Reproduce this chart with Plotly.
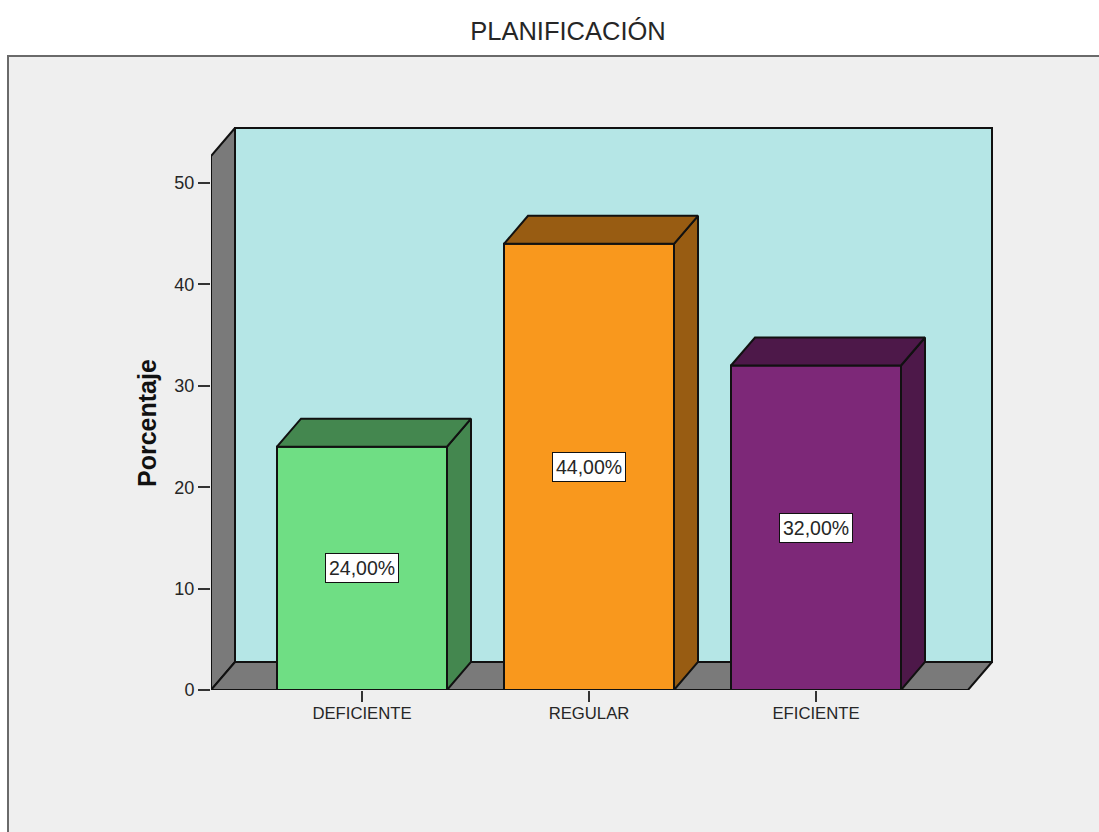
import plotly.graph_objects as go

# Data
categories = ["DEFICIENTE", "REGULAR", "EFICIENTE"]
values = [24.0, 44.0, 32.0]
value_labels = ["24,00%", "44,00%", "32,00%"]
y_ticks = [0, 10, 20, 30, 40, 50]
title_text = "PLANIFICACIÓN"
y_title = "Porcentaje"

# Colours
front_colors = ["#6FDE84", "#F9981D", "#7D2878"]
side_colors = ["#44874F", "#985C12", "#4D1849"]
wall_color = "#7A7A7A"
back_color = "#B5E6E6"
panel_color = "#EFEFEF"
panel_line = "#6A6A6A"
ink = "#111111"
soft = "#262626"
FONT = "Liberation Sans, Arial, sans-serif"

# Figure geometry (pixels); the plot area runs a little past the walls at top and right
W, H = 1099, 832
L, R, T, B = 211, 1004, 116, 690
wall_right, wall_top = 992, 128
px_per_cat = 227.0
px_per_unit = 10.14
cat0_px = 362.0
bar_w = 170.0 / px_per_cat
dx = 24.0 / px_per_cat
dy = 28.0 / px_per_unit
x_range = [(L - cat0_px) / px_per_cat, (R - cat0_px) / px_per_cat]
y_range = [0, (B - T) / px_per_unit]
x0 = x_range[0]
x1 = (wall_right - cat0_px) / px_per_cat - dx
y_top = (B - wall_top) / px_per_unit - dy

fig = go.Figure()


def poly(xs, ys, fill, axes, width=2.0):
    fig.add_trace(go.Scatter(
        x=xs + xs[:1], y=ys + ys[:1], mode="lines", fill="toself", fillcolor=fill,
        line=dict(color=ink, width=width), hoverinfo="skip", showlegend=False,
        cliponaxis=False, xaxis=axes[0], yaxis=axes[1],
    ))


base = ("x", "y")
over = ("x2", "y2")

# Chart walls, on the base axes so that they stay under the bars
poly([x0 + dx, x1 + dx, x1 + dx, x0 + dx], [dy, dy, y_top + dy, y_top + dy], back_color, base)
poly([x0, x0 + dx, x0 + dx, x0], [0, dy, y_top + dy, y_top], wall_color, base)
poly([x0, x1, x1 + dx, x0 + dx], [0, 0, dy, dy], wall_color, base)

# Bars
fig.add_trace(go.Bar(
    x=list(range(len(values))), y=values, width=bar_w,
    marker=dict(color=front_colors, line=dict(color=ink, width=2.0)),
    hoverinfo="skip", showlegend=False, cliponaxis=False, xaxis="x2", yaxis="y2",
))
for i, v in enumerate(values):
    right = i + bar_w / 2
    left = i - bar_w / 2
    poly([right, right + dx, right + dx, right], [0, dy, v + dy, v], side_colors[i], over)
    poly([left, left + dx, right + dx, right], [v, v + dy, v + dy, v], side_colors[i], over)

# paper coordinates of the plot area
px = lambda p: (p - L) / (R - L)
py = lambda p: (B - p) / (B - T)

annotations = [
    dict(x=i, y=v / 2, xref="x2", yref="y2", text=value_labels[i], showarrow=False,
         font=dict(family=FONT, size=19.5, color=soft), bgcolor="white",
         bordercolor=ink, borderwidth=1, borderpad=3)
    for i, v in enumerate(values)
]
annotations.append(dict(
    x=px(147), y=py(423), xref="paper", yref="paper", yanchor="middle", xanchor="center",
    text=f"<b>{y_title}</b>", textangle=-90, showarrow=False,
    font=dict(family=FONT, size=25, color=ink),
))

fig.update_layout(
    width=W, height=H, autosize=False,
    margin=dict(l=L, r=W - R, t=T, b=H - B, pad=0),
    paper_bgcolor="white", plot_bgcolor="rgba(0,0,0,0)",
    font=dict(family=FONT, color=ink),
    title=dict(text=title_text, x=568 / W, y=1 - 31 / H, xref="container", yref="container",
               xanchor="center", yanchor="middle",
               font=dict(family=FONT, size=25.5, color=soft)),
    barmode="overlay",
    shapes=[dict(type="rect", xref="paper", yref="paper", layer="below",
                 x0=px(8), x1=px(1110), y0=py(850), y1=py(56),
                 fillcolor=panel_color, line=dict(color=panel_line, width=2))],
    annotations=annotations,
    xaxis=dict(range=x_range, tickmode="array", tickvals=list(range(len(categories))),
               ticktext=categories, ticks="outside", ticklen=11, tickwidth=1.5, tickcolor="#333333",
               tickfont=dict(family=FONT, size=16.7, color=soft), showgrid=False, zeroline=False,
               showline=False, fixedrange=True, ticklabelstandoff=-3),
    yaxis=dict(range=y_range, tickmode="array", tickvals=y_ticks, ticks="outside", ticklen=12,
               tickwidth=1.5, tickcolor="#333333", tickfont=dict(family=FONT, size=18, color=soft),
               showgrid=False, zeroline=False, showline=False, fixedrange=True),
    xaxis2=dict(range=x_range, overlaying="x", visible=False, fixedrange=True),
    yaxis2=dict(range=y_range, overlaying="y", visible=False, fixedrange=True),
)

fig.write_html("out.html", config=dict(displayModeBar=False),
               post_script="document.body.style.margin='0';document.body.style.overflow='hidden';")
